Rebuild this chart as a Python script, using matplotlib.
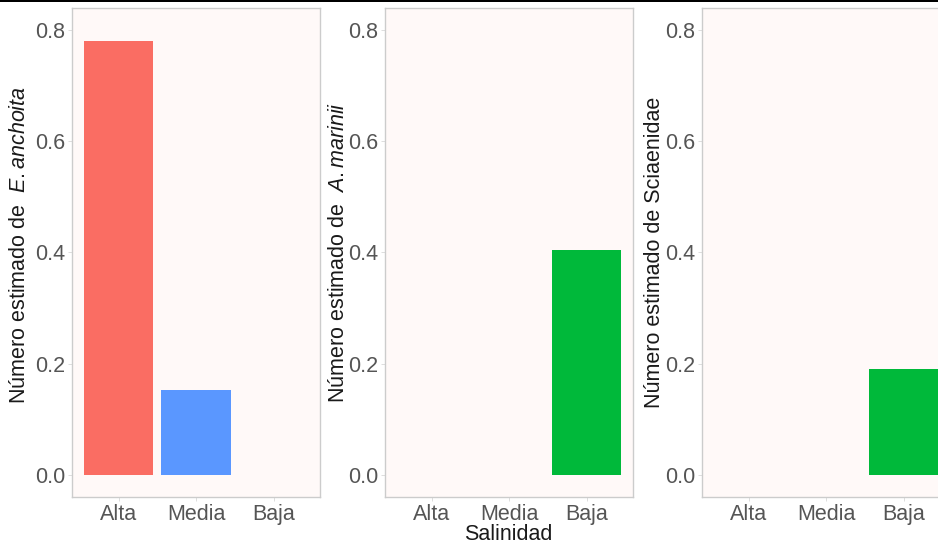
import matplotlib
matplotlib.use("Agg")
import matplotlib.pyplot as plt
from matplotlib.patches import Rectangle

plt.rcParams["font.family"] = ["Liberation Sans", "DejaVu Sans"]
plt.rcParams["mathtext.fontset"] = "custom"
plt.rcParams["mathtext.rm"] = "Liberation Sans"
plt.rcParams["mathtext.it"] = "Liberation Sans:italic"

# Salinity classes and estimated counts per taxon
categories = ["Alta", "Media", "Baja"]
anchoita = [0.78, 0.153, 0.0]
marinii = [0.0, 0.0, 0.405]
sciaenidae = [0.0, 0.0, 0.19]
yticks = [0.0, 0.2, 0.4, 0.6, 0.8]

colors = ["#FA6D63", "#5A97FF", "#00B93A"]

ylabels = [
    "Número estimado de  $\\mathit{E.anchoita}$",
    "Número estimado de  $\\mathit{A.marinii}$",
    "Número estimado de Sciaenidae",
]
series = [anchoita, marinii, sciaenidae]

W, H = 938, 544
fig = plt.figure(figsize=(W / 100, H / 100), dpi=100)
fig.patch.set_facecolor("white")

panel_left = [72, 385, 702]
panel_w = 248
top, bottom = 8, 497
label_x = [20, 338, 654]
label_y = [245, 252, 252]

for i in range(3):
    ax = fig.add_axes([panel_left[i] / W, (H - bottom) / H,
                       panel_w / W, (bottom - top) / H])
    ax.set_facecolor("#FFF9F8")
    x = range(1, len(categories) + 1)
    vals = series[i]
    ax.bar(x, vals, width=0.9, color=colors, linewidth=0)
    ax.set_xlim(0.4, 3.6)
    ax.set_ylim(-0.04, 0.84)
    ax.set_xticks(list(x))
    ax.set_xticklabels(categories)
    ax.set_yticks(yticks)
    ax.set_yticklabels([f"{v:.1f}" for v in yticks])
    ax.tick_params(axis="both", colors="#D8D8D8", labelcolor="#555555",
                   labelsize=15.5, length=3, width=0.6, pad=2)
    for s in ax.spines.values():
        s.set_color("#CCCCCC")
        s.set_linewidth(1.0)
    fig.text(label_x[i] / W, 1 - label_y[i] / H, ylabels[i], rotation=90,
             ha="center", va="center", fontsize=15.5, color="#1A1A1A")

fig.text(508 / W, 1 - 535 / H, "Salinidad", ha="center", va="center",
         fontsize=15.5, color="#1A1A1A")

# thin black rule along the top edge
fig.add_artist(Rectangle((0, 1 - 2 / H), 1, 2 / H, transform=fig.transFigure,
                         facecolor="black", edgecolor="none"))

fig.savefig("out.png", dpi=100)
